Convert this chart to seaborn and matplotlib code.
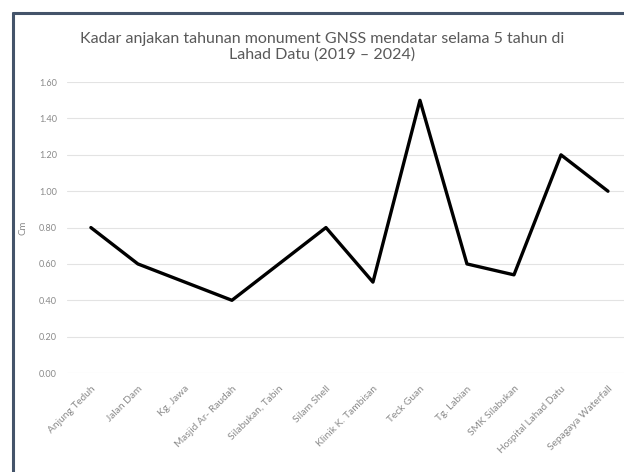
import matplotlib
matplotlib.use("Agg")
import matplotlib.pyplot as plt
import seaborn as sns
import pandas as pd
from matplotlib.lines import Line2D

sites = ["Anjung Teduh", "Jalan Dam", "Kg. Jawa", "Masjid Ar- Raudah", "Silabukan, Tabin",
         "Silam Shell", "Klinik K. Tambisan", "Teck Guan", "Tg. Labian", "SMK Silabukan",
         "Hospital Lahad Datu", "Sepagaya Waterfall"]
rates = [0.80, 0.60, 0.50, 0.40, 0.60, 0.80, 0.50, 1.50, 0.60, 0.54, 1.20, 1.00]
yticks = [0.0, 0.2, 0.4, 0.6, 0.8, 1.0, 1.2, 1.4, 1.6]

df = pd.DataFrame({"site": sites, "rate": rates, "pos": range(len(sites))})

sns.set_style("white")
plt.rcParams["font.family"] = ["Lato", "DejaVu Sans"]

fig = plt.figure(figsize=(6.24, 4.72), dpi=100)
ax = fig.add_axes([0.108, 0.2097, 0.904, 0.6163])

sns.lineplot(data=df, x="pos", y="rate", ax=ax, color="black", linewidth=2.4)

ax.set_xlim(-0.5, len(sites) - 0.5)
ax.set_ylim(0, 1.6)
ax.set_yticks(yticks)
ax.set_yticklabels([f"{v:.2f}" for v in yticks], fontsize=6.6, color="#8a8a8a")
ax.set_xticks(range(len(sites)))
ax.set_xticklabels(sites, rotation=45, ha="right", rotation_mode="anchor",
                   fontsize=7.3, color="#8a8a8a")
ax.tick_params(axis="y", length=0, pad=7.5)
ax.tick_params(axis="x", length=0, pad=8)
ax.yaxis.grid(True, color="#e3e3e3", linewidth=0.8)
for s in ax.spines.values():
    s.set_visible(False)
ax.set_xlabel("")
ax.set_ylabel("Cm", fontsize=7, color="#8a8a8a", labelpad=8)

fig.text(0.516, 0.9, "Kadar anjakan tahunan monument GNSS mendatar selama 5 tahun di\nLahad Datu (2019 \u2013 2024)",
         ha="center", va="center", fontsize=11.5, color="#595959", linespacing=1.1)

# outer frame lines
fig.add_artist(Line2D([12.5 / 624, 12.5 / 624], [0, 1 - 12.5 / 472], color="#44546a", linewidth=2.2,
                      transform=fig.transFigure))
fig.add_artist(Line2D([12.5 / 624, 1], [1 - 12.5 / 472, 1 - 12.5 / 472], color="#44546a", linewidth=2.2,
                      transform=fig.transFigure))

fig.savefig("out.png", dpi=100)
